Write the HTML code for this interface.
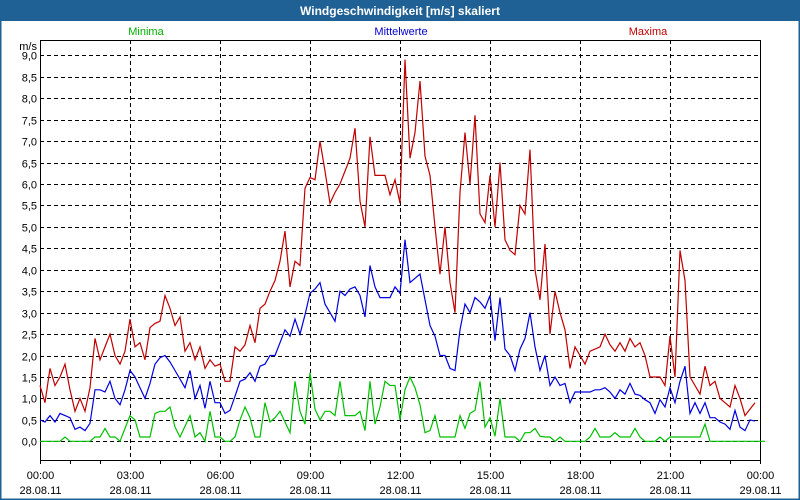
<!DOCTYPE html>
<html><head><meta charset="utf-8"><style>
body{margin:0;width:800px;height:500px;overflow:hidden;background:#fff}
svg{display:block;font-family:"Liberation Sans",sans-serif}
</style></head><body>
<svg id="chart" width="800" height="500" viewBox="0 0 800 500" xmlns="http://www.w3.org/2000/svg">
<rect x="0" y="0" width="800" height="500" fill="#fff"/>
<rect x="0.5" y="0.5" width="799" height="499" fill="none" stroke="#1f6194" stroke-width="2"/>
<rect x="0" y="0" width="800" height="21" fill="#1f6194"/>
<text x="400" y="15" text-anchor="middle" fill="#fff" font-size="12" font-weight="bold">Windgeschwindigkeit [m/s] skaliert</text>
<text x="146" y="35" text-anchor="middle" fill="#00b000" font-size="11">Minima</text>
<text x="401" y="35" text-anchor="middle" fill="#0000d0" font-size="11">Mittelwerte</text>
<text x="648" y="35" text-anchor="middle" fill="#c00000" font-size="11">Maxima</text>
<text x="37" y="50" text-anchor="end" fill="#000" font-size="11">m/s</text>
<g id="grid"></g>
<g id="axes"></g>
<g id="series"></g>
</svg>
<script>
const yTicks = [0,0.5,1,1.5,2,2.5,3,3.5,4,4.5,5,5.5,6,6.5,7,7.5,8,8.5,9];
const xTickHours = [0,3,6,9,12,15,18,21,24];
const xTickTimes = ["00:00","03:00","06:00","09:00","12:00","15:00","18:00","21:00","00:00"];
const xTickDates = ["28.08.11","28.08.11","28.08.11","28.08.11","28.08.11","28.08.11","28.08.11","28.08.11","29.08.11"];
const stepMinutes = 10;
const maxima = [1.3,0.9,1.7,1.3,1.5,1.8,1.2,0.7,1.0,0.7,1.25,2.4,1.9,2.2,2.5,2.0,1.8,2.1,2.85,2.2,2.3,1.9,2.65,2.75,2.8,3.4,3.1,2.7,2.9,2.1,2.3,1.9,2.2,1.7,1.9,1.75,1.8,1.4,1.4,2.2,2.1,2.25,2.7,2.3,3.1,3.2,3.5,3.75,4.2,4.9,3.6,4.2,4.1,5.9,6.15,6.1,7.0,6.3,5.55,5.8,6.0,6.3,6.6,7.3,5.6,5.0,7.1,6.2,6.2,6.2,5.75,6.1,5.55,8.9,6.6,7.2,8.4,6.65,6.2,5.0,3.9,5.0,3.7,3.0,5.8,7.2,6.0,7.6,5.3,5.1,6.2,5.0,6.5,4.7,4.45,4.35,5.5,5.3,6.8,4.0,3.3,4.6,2.5,3.5,3.0,2.6,1.7,2.2,2.0,1.8,2.1,2.15,2.2,2.5,2.25,2.1,2.3,2.1,2.4,2.2,2.3,2.0,1.5,1.5,1.5,1.3,2.45,1.5,4.45,3.75,1.5,1.3,1.1,1.75,1.3,1.4,1.0,0.9,0.8,1.3,1.0,0.6,0.75,0.9];
const mittelwerte = [0.5,0.45,0.6,0.45,0.65,0.6,0.55,0.28,0.33,0.25,0.42,1.2,1.2,1.15,1.4,1.0,0.85,1.2,1.65,1.5,1.25,1.0,1.35,1.8,1.95,2.0,1.85,1.65,1.45,1.25,1.65,1.0,1.3,0.77,1.4,0.9,0.9,0.65,0.72,1.05,1.4,1.45,1.6,1.4,1.75,1.8,2.0,2.0,2.3,2.6,2.45,2.85,2.5,2.95,3.45,3.55,3.7,3.2,3.0,2.8,3.5,3.4,3.55,3.6,3.4,2.9,4.1,3.6,3.35,3.35,3.35,3.6,3.45,4.7,3.7,3.8,3.9,3.3,2.7,2.45,2.0,2.0,1.7,1.65,2.6,3.2,3.0,3.35,3.25,3.1,3.4,2.35,3.35,2.15,2.0,1.65,2.15,2.4,3.0,2.2,1.65,2.0,1.3,1.5,1.3,1.35,0.9,1.15,1.15,1.15,1.15,1.2,1.2,1.25,1.15,1.0,1.2,1.1,1.35,1.1,1.07,0.97,0.9,0.65,0.97,0.8,1.25,0.9,1.4,1.75,0.65,0.9,0.65,0.9,0.55,0.55,0.45,0.4,0.28,0.72,0.33,0.25,0.5,0.47];
const minima = [0,0,0,0,0,0.1,0,0,0,0,0,0.1,0.1,0.3,0.1,0.1,0,0.3,0.6,0.5,0.1,0.1,0.1,0.65,0.7,0.7,0.8,0.33,0.1,0.35,0.6,0.1,0.2,0,0.7,0.1,0.1,0,0,0.1,0.5,0.8,0.55,0.1,0.1,0.9,0.45,0.55,0.7,0.45,0.2,1.4,0.7,0.4,1.6,0.75,0.5,0.7,0.7,0.6,1.4,0.6,0.6,0.6,0.7,0.25,1.4,0.4,0.8,1.4,1.3,1.3,0.5,1.2,1.5,1.25,0.85,0.2,0.25,0.6,0.1,0.1,0.1,0.1,0.6,0.3,0.65,0.72,1.4,0.33,0.55,0.12,1.0,0.1,0.1,0.1,0,0.2,0.2,0.3,0.12,0.1,0.1,0,0.1,0,0,0,0,0,0.1,0.3,0.1,0.1,0.1,0.2,0.1,0.1,0.1,0.3,0.1,0,0,0,0.1,0,0.1,0.1,0.1,0.1,0.1,0.1,0.1,0.4,0,0,0,0,0,0,0,0,0,0,0,0];

const NS = "http://www.w3.org/2000/svg";
const L = 40, R = 760, T = 40, B = 460;
const Y0 = 441.3, Y9 = 55.3;
function xScale(min){ return L + (R - L) * min / 1440; }
function yScale(v){ return Y0 - (Y0 - Y9) * v / 9; }
function mk(tag, attrs, parent){
  const el = document.createElementNS(NS, tag);
  for (const k in attrs) el.setAttribute(k, attrs[k]);
  parent.appendChild(el);
  return el;
}
const grid = document.getElementById('grid');
const axes = document.getElementById('axes');
const series = document.getElementById('series');

yTicks.forEach(v => {
  const y = Math.round(yScale(v)) + 0.5;
  const g = mk('line', {x1:L, x2:R, y1:y, y2:y, stroke:'#000', 'stroke-dasharray':'4,3', 'stroke-width':1}, grid);
  
  
  const t = mk('text', {x:37, y:y+4, 'text-anchor':'end', 'font-size':11, fill:'#000'}, axes);
  
  
  t.textContent = v.toFixed(1).replace('.', ',');
});
xTickHours.forEach((h, i) => {
  const x = Math.round(xScale(h * 60)) + 0.5;
  if (h > 0 && h < 24) {
    const g = mk('line', {x1:x, x2:x, y1:T, y2:B, stroke:'#000', 'stroke-dasharray':'4,3', 'stroke-width':1}, grid);
    
    
  }
  const t1 = mk('text', {x:x, y:479, 'text-anchor':'middle', 'font-size':11, fill:'#000'}, axes);
  
  
  t1.textContent = xTickTimes[i];
  const t2 = mk('text', {x:x, y:494, 'text-anchor':'middle', 'font-size':11, fill:'#000'}, axes);
  
  
  t2.textContent = xTickDates[i];
});
for (let h = 0; h <= 24; h++) {
  const x = Math.round(xScale(h * 60)) + 0.5;
  const tk = mk('line', {x1:x, x2:x, y1:B, y2:B+4, stroke:'#000'}, axes);
  
  
}
const frame = mk('rect', {x:L+0.5, y:T+0.5, width:R-L, height:B-T, fill:'none', stroke:'#000'}, axes);



function drawLine(vals, color, name){
  const pts = vals.map((v, i) => xScale(i * stepMinutes).toFixed(1) + ',' + yScale(v).toFixed(1)).join(' ');
  const p = mk('polyline', {points:pts, fill:'none', stroke:color, 'stroke-width':1.2, 'stroke-linejoin':'miter'}, series);
  
  
}
drawLine(minima, '#00c000', 'minima-line');
drawLine(mittelwerte, '#0000e0', 'mittelwerte-line');
drawLine(maxima, '#c00000', 'maxima-line');
</script>
</body></html>
